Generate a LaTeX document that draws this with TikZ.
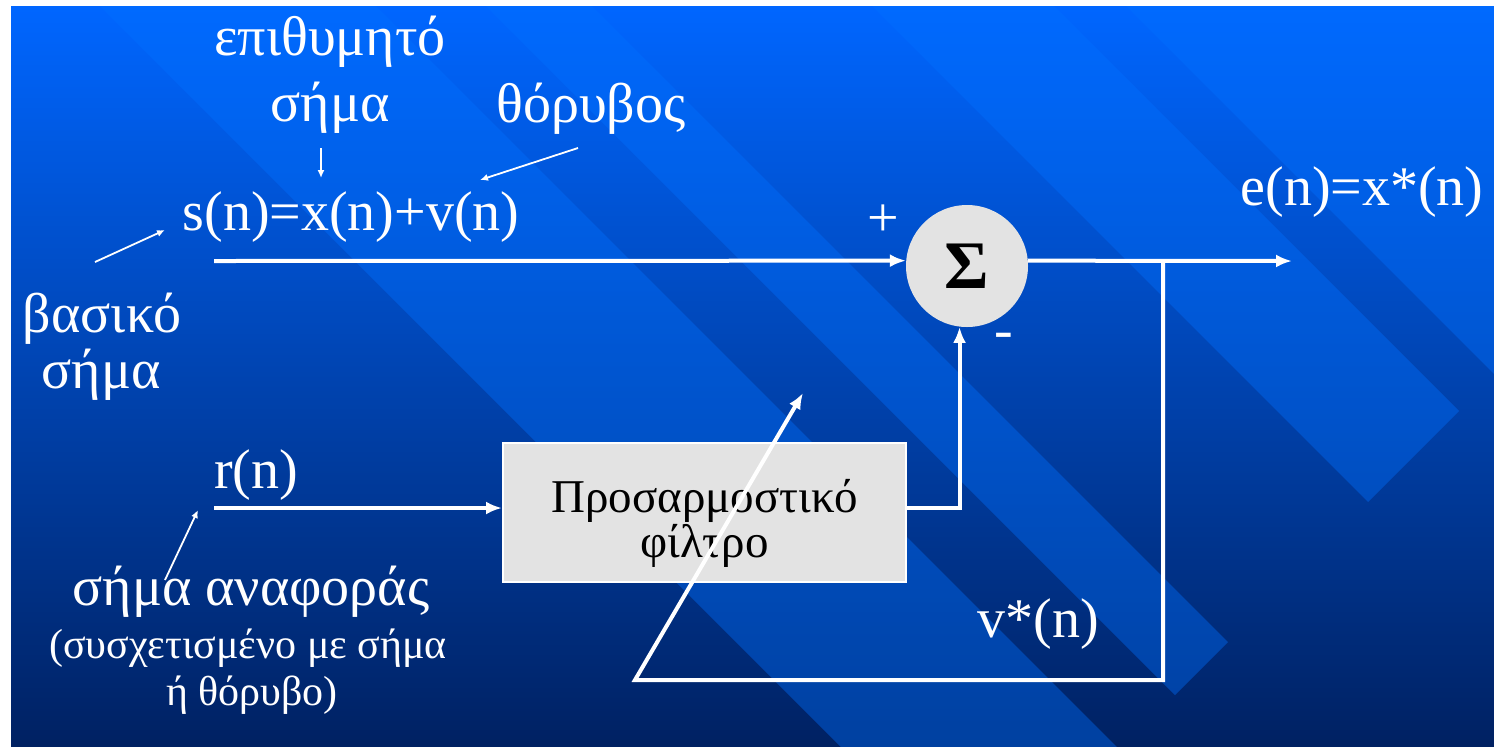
\documentclass[tikz,border=0pt]{standalone}
\usepackage{fontspec}
\setmainfont{Liberation Serif}
\usetikzlibrary{arrows.meta,positioning,calc}
\definecolor{slideTop}{RGB}{0,102,255}
\definecolor{slideBot}{RGB}{0,33,98}
\definecolor{slideBand}{RGB}{0,112,255}
\definecolor{blockGray}{HTML}{E3E3E3}

\begin{document}
\begin{tikzpicture}[x=0.5pt,y=-0.5pt,
      lbl/.style={text=white,font=\fontsize{28}{33}\selectfont,inner sep=0pt,anchor=base},
      sublbl/.style={text=white,font=\fontsize{21}{23.5}\selectfont,inner sep=0pt,anchor=base},
      sig/.style={draw=white,line width=2pt,-{Latex[length=8pt,width=6.5pt]}},
      note/.style={draw=white,line width=0.9pt,-{Latex[length=4pt,width=3.5pt]}},
      block/.style={draw=white,line width=1pt,fill=blockGray,minimum width=201.5pt,minimum height=69.5pt,inner sep=0pt,align=center,font=\fontsize{23.5}{22.5}\selectfont},
      adder/.style={circle,fill=blockGray,minimum size=61pt,inner sep=0pt,font=\fontsize{34}{34}\selectfont\bfseries}]
    % slide background
    \useasboundingbox (0,0) rectangle (1494,746);
    \fill[white] (0,0) rectangle (1494,746);
    \shade[top color=slideTop,bottom color=slideBot] (11,6) rectangle (1494,746);
    \begin{scope}
      \clip (11,6) rectangle (1494,746);
      \foreach \ka/\kb in {94/370,480/586,866/1048,1120/1700}
        \fill[slideBand,opacity=0.4] (\ka-200,-200) -- (\kb-200,-200) -- ({(1870+\kb)/2},{(1870-\kb)/2}) -- ({(1870+\ka)/2},{(1870-\ka)/2}) -- cycle;
    \end{scope}
    % labels
    \node[lbl] (wantA) at (330,55) {επιθυμητό};
    \node[lbl] (wantB) at (330,121) {σήμα};
    \node[lbl] (noise) at (591,122) {θόρυβος};
    \node[lbl] (seq) at (351,230) {s(n)=x(n)+v(n)};
    \node[lbl] (baseA) at (102,332) {βασικό};
    \node[lbl] (baseB) at (101,388) {σήμα};
    \node[lbl] (rn) at (256,488) {r(n)};
    \node[lbl] (refA) at (251,605) {σήμα αναφοράς};
    \node[sublbl] (refB) at (248,658) {(συσχετισμένο με σήμα};
    \node[sublbl] (refC) at (252,705) {ή θόρυβο)};
    \node[lbl] (vstar) at (1038,637) {v*(n)};
    \node[lbl] (eout) at (1362,205) {e(n)=x*(n)};
    \node[lbl] (plus) at (883,236) {+};
    \node[lbl] (minus) at (1004,348) {-};
    % blocks
    \node[adder] (sum) at (967,266) {Σ};
    \node[block] (filt) at (704.5,512.5) {\rule{0pt}{27pt}Προσαρμοστικό\\φίλτρο};
    % free ends
    \coordinate (sIn) at (214,261);
    \coordinate (rIn) at (214,508);
    \coordinate (eEnd) at (1292,261);
    \coordinate (tap) at (1163,261);
    \coordinate (fbLow) at (1163,680);
    \coordinate (fbLeft) at (635,680);
    \coordinate (adapt) at (803,393);
    \coordinate (wantTail) at (321,148);
    \coordinate (wantHead) at (321,178);
    \coordinate (noiseTail) at (578,148);
    \coordinate (noiseHead) at (480,180);
    \coordinate (baseTail) at (95,262);
    \coordinate (baseHead) at (165,230);
    \coordinate (refTail) at (165,580);
    \coordinate (refHead) at (198,510);
    % signal paths
    \draw[sig] (sIn) -- (sum.175);
    \draw[sig] (sum.5) -- (eEnd);
    \draw[sig] (rIn) -- (filt.west |- rIn);
    \draw[sig] (filt.east |- rIn) -| (sum.263);
    \draw[sig] (tap) -- (fbLow) -- (fbLeft) -- (adapt);
    \foreach \a/\b in {wantTail/wantHead,noiseTail/noiseHead,baseTail/baseHead,refTail/refHead}
      \draw[note] (\a) -- (\b);
  \end{tikzpicture}
\end{document}
